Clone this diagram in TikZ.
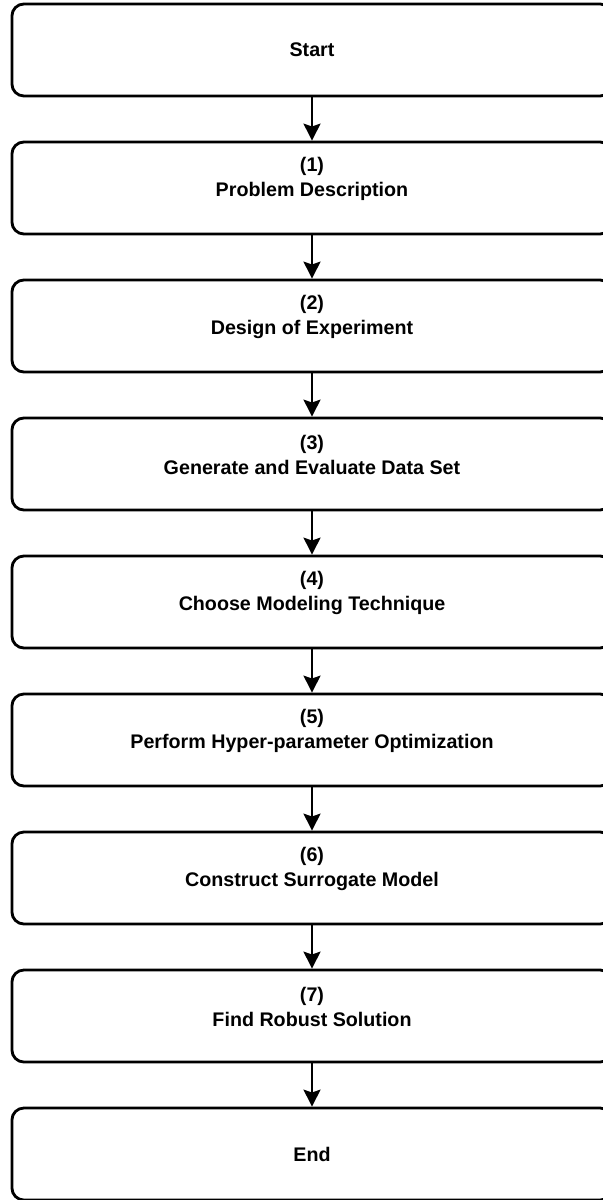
\documentclass[tikz,border=0pt]{standalone}
\usepackage{fontspec}
\setmainfont{Liberation Sans}
\usetikzlibrary{arrows.meta, positioning}

\tikzset{
  stepbox/.style={draw, line width=2pt, rounded corners=0.3cm,
    minimum width=15cm, minimum height=2.3cm, inner sep=0pt},
  steptext/.style={align=center, font=\bfseries\fontsize{14}{17.8}\selectfont},
  flow/.style={line width=2pt, -{Stealth[length=12pt, width=12pt, inset=2pt]}}
}

\begin{document}
\begin{tikzpicture}[x=0.025cm, y=0.025cm]
\useasboundingbox (0,0) rectangle (603,-1200);

% start box
\node[stepbox, steptext] (s0) at (312,-50) {Start};

% numbered steps
\foreach \i/\txt in {1/Problem Description, 2/Design of Experiment,
    3/Generate and Evaluate Data Set, 4/Choose Modeling Technique,
    5/Perform Hyper-parameter Optimization, 6/Construct Surrogate Model,
    7/Find Robust Solution} {
  \node[stepbox] (s\i) at (312,{-50-138*\i}) {};
  \node[steptext] (t\i) at ([yshift=6.75pt]s\i.center) {(\i)\\\txt};
}

% end box
\node[stepbox, steptext] (s8) at (312,-1154) {End};

% arrows between boxes
\foreach \i [evaluate=\i as \j using int(\i+1)] in {0,...,7} {
  \draw[flow] (s\i) -- (s\j);
}
\end{tikzpicture}
\end{document}
